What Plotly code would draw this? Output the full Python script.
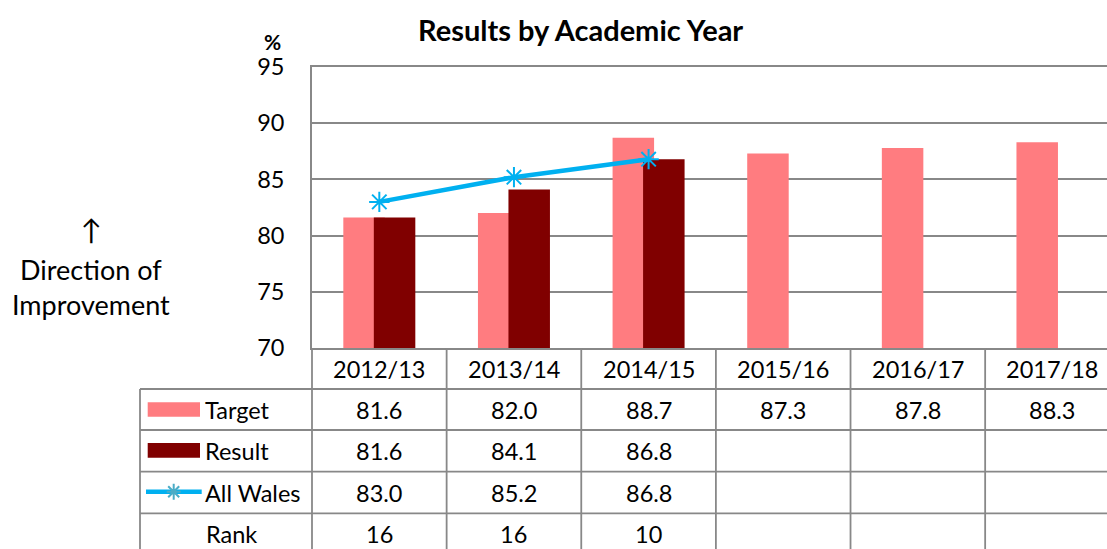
import plotly.graph_objects as go

# ---- data ----
categories = ["2012/13", "2013/14", "2014/15", "2015/16", "2016/17", "2017/18"]
target = [81.6, 82.0, 88.7, 87.3, 87.8, 88.3]
result = [81.6, 84.1, 86.8, None, None, None]
all_wales = [83.0, 85.2, 86.8, None, None, None]
rank = [16, 16, 10, None, None, None]
y_ticks = [70, 75, 80, 85, 90, 95]

W, H = 1107, 549
FONT = "Lato"
GRID = "#888888"
C_TARGET = "#FF7C80"
C_RESULT = "#800000"
C_LINE = "#00B0F0"
C_MARK = "#4BACC6"


def X(px):
    return px / W


def Y(py):
    return 1 - py / H


# plot area in pixels
PL, PR, PT, PB = 312, 1107, 67, 348
CAT_W = 134.63
xs = list(range(len(categories)))
x_range = [-0.5, -0.5 + (PR - PL) / CAT_W]

BW = 41.5 / CAT_W
SHIFT = 15.25 / CAT_W

fig = go.Figure()
fig.add_trace(go.Bar(x=xs, y=target, width=BW, offset=-SHIFT - BW / 2,
                     marker=dict(color=C_TARGET, line=dict(width=0)), name="Target"))
fig.add_trace(go.Bar(x=xs, y=result, width=BW, offset=SHIFT - BW / 2,
                     marker=dict(color=C_RESULT, line=dict(width=0)), name="Result"))
fig.add_trace(go.Scatter(x=xs, y=all_wales, mode="lines+markers", name="All Wales",
                         line=dict(color=C_LINE, width=4.5),
                         marker=dict(symbol="asterisk-open", size=17,
                                     line=dict(color=C_MARK, width=2)),
                         cliponaxis=False))

shapes = []
line_style = dict(color=GRID, width=1.8)

# table row lines
row_lines = [389, 430, 471.7, 513.3]
for ry in row_lines:
    shapes.append(dict(type="line", xref="paper", yref="paper",
                       x0=X(140), x1=1, y0=Y(ry), y1=Y(ry), line=line_style, layer="above"))
# table column lines (category boundaries)
for k in range(len(categories) - 1):
    shapes.append(dict(type="line", xref="x", yref="paper",
                       x0=k + 0.5, x1=k + 0.5, y0=Y(PB), y1=Y(H + 10), line=line_style))
shapes.append(dict(type="line", xref="paper", yref="paper",
                   x0=X(PL), x1=X(PL), y0=Y(PB), y1=Y(H + 10), line=line_style))
shapes.append(dict(type="line", xref="paper", yref="paper",
                   x0=X(140), x1=X(140), y0=Y(389), y1=Y(H + 10), line=line_style))

# legend keys in the table
shapes.append(dict(type="rect", xref="paper", yref="paper", x0=X(147.7), x1=X(200),
                   y0=Y(402.3), y1=Y(416.7), fillcolor=C_TARGET, line=dict(width=0)))
shapes.append(dict(type="rect", xref="paper", yref="paper", x0=X(147.7), x1=X(200),
                   y0=Y(443), y1=Y(457.7), fillcolor=C_RESULT, line=dict(width=0)))
shapes.append(dict(type="line", xref="paper", yref="paper", x0=X(146), x1=X(201.7),
                   y0=Y(491.7), y1=Y(491.7), line=dict(color=C_LINE, width=4.5)))
shapes.append(dict(type="path", xref="paper", yref="paper", xsizemode="pixel", ysizemode="pixel",
                   xanchor=X(173.7), yanchor=Y(491.7),
                   path="M-7,0L7,0M0,-8L0,8M-5.5,-5.5L5.5,5.5M-5.5,5.5L5.5,-5.5",
                   line=dict(color=C_MARK, width=2)))

annotations = []
tfont = dict(family=FONT, size=23.5, color="black")
row_centers = {"head": 368.5, "target": 409.5, "result": 450.8, "wales": 492.5, "rank": 534}
for i, c in enumerate(categories):
    annotations.append(dict(x=i, y=Y(row_centers["head"]), xref="x", yref="paper", text=c,
                            showarrow=False, font=tfont, xanchor="center", yanchor="middle"))
for key, vals, fmt in [("target", target, "{:.1f}"), ("result", result, "{:.1f}"),
                       ("wales", all_wales, "{:.1f}"), ("rank", rank, "{}")]:
    for i, v in enumerate(vals):
        if v is None:
            continue
        annotations.append(dict(x=i, y=Y(row_centers[key]), xref="x", yref="paper",
                                text=fmt.format(v), showarrow=False, font=tfont,
                                xanchor="center", yanchor="middle"))

for label, key in [("Target", "target"), ("Result", "result"), ("All Wales", "wales")]:
    annotations.append(dict(x=X(203), y=Y(row_centers[key]), xref="paper", yref="paper",
                            text=label, showarrow=False, font=tfont,
                            xanchor="left", yanchor="middle"))
annotations.append(dict(x=X(231), y=Y(row_centers["rank"]), xref="paper", yref="paper",
                        text="Rank", showarrow=False, font=tfont,
                        xanchor="center", yanchor="middle"))

# title, unit, direction note
annotations.append(dict(x=X(580), y=Y(30), xref="paper", yref="paper",
                        text="<b>Results by Academic Year</b>", showarrow=False,
                        font=dict(family=FONT, size=29, color="black"),
                        xanchor="center", yanchor="middle"))
annotations.append(dict(x=X(272), y=Y(42), xref="paper", yref="paper",
                        text="<b>%</b>", showarrow=False,
                        font=dict(family=FONT, size=21, color="black"),
                        xanchor="center", yanchor="middle"))
annotations.append(dict(x=X(91), y=Y(229), xref="paper", yref="paper",
                        text="↑", showarrow=False,
                        font=dict(family=FONT, size=28, color="black"),
                        xanchor="center", yanchor="middle"))
annotations.append(dict(x=X(91), y=Y(287), xref="paper", yref="paper",
                        text="Direction of<br>Improvement", showarrow=False,
                        font=dict(family=FONT, size=27, color="black"),
                        xanchor="center", yanchor="middle"))

fig.update_layout(
    width=W, height=H,
    margin=dict(l=0, r=0, t=0, b=0, pad=0, autoexpand=False),
    paper_bgcolor="white", plot_bgcolor="white",
    barmode="overlay",
    showlegend=False,
    xaxis=dict(domain=[X(PL), 1], range=x_range, showticklabels=False, showgrid=False,
               zeroline=False, showline=True, linecolor=GRID, linewidth=1.8, mirror=True,
               ticks="", fixedrange=True, automargin=False),
    yaxis=dict(domain=[Y(PB), Y(PT)], range=[70, 95], tickvals=y_ticks,
               showgrid=True, gridcolor=GRID, gridwidth=1.6, zeroline=False,
               showline=True, linecolor=GRID, linewidth=1.8, ticks="",
               ticklabelstandoff=21, automargin=False,
               tickfont=dict(family=FONT, size=23.5, color="black")),
    shapes=shapes,
    annotations=annotations,
)

fig.write_html("out.html")
